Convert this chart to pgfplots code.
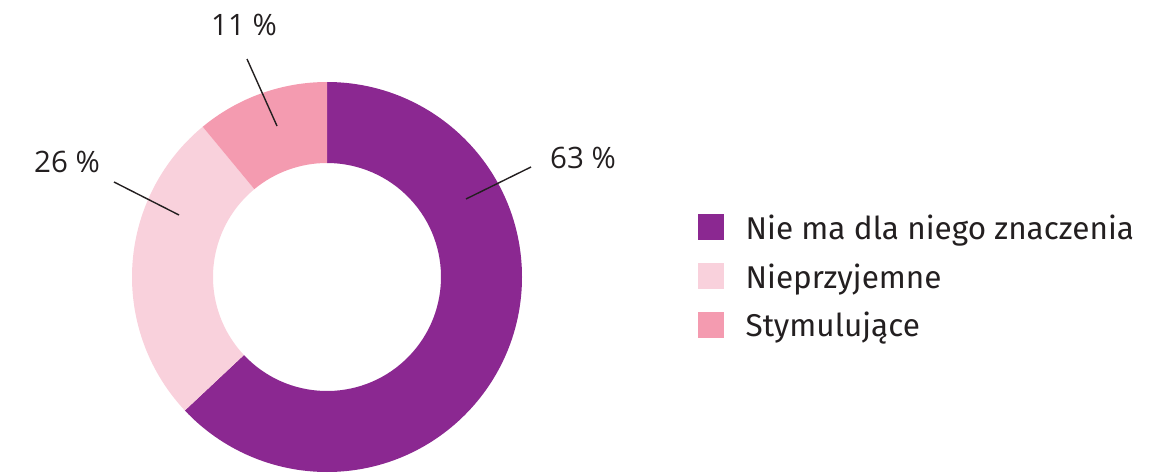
\documentclass[border=0pt]{standalone}
\usepackage{pgfplots}
\pgfplotsset{compat=1.18}
\usepackage{pgfplotstable}
\usepackage{fontspec}
\setmainfont{Open Sans}
\newfontfamily\legfont{Fira Sans}
\definecolor{cA}{HTML}{8B2891}
\definecolor{cB}{HTML}{F9D1DC}
\definecolor{cC}{HTML}{F49BB0}
\definecolor{txt}{HTML}{231F20}
\pgfplotstableread{
name value
A 63
B 26
C 11
}\donutdata
\begin{document}
\begin{tikzpicture}
\pgfplotstablegetelem{0}{value}\of\donutdata \let\vA\pgfplotsretval
\pgfplotstablegetelem{1}{value}\of\donutdata \let\vB\pgfplotsretval
\pgfplotstablegetelem{2}{value}\of\donutdata \let\vC\pgfplotsretval
\pgfmathsetmacro\aO{90}
\pgfmathsetmacro\aA{\aO-\vA*3.6}
\pgfmathsetmacro\aB{\aA-\vB*3.6}
\pgfmathsetmacro\aC{\aB-\vC*3.6}
\begin{axis}[
  scale only axis, width=1160pt, height=475pt,
  xmin=0, xmax=1160, ymin=0, ymax=475,
  hide axis, clip=false,
  legend style={at={(axis cs:698,261)}, anchor=north west, draw=none, fill=none,
    font=\legfont\fontsize{31.5}{36}\selectfont\color{txt},
    row sep=16.5pt, column sep=22pt, inner sep=0pt,
    nodes={inner sep=0pt, anchor=base west, text height=23pt, text depth=7pt}},
  legend cell align=left,
  legend image code/.code={\fill[#1] (0pt,0pt) rectangle (25pt,25pt);},
]
\path (axis cs:0,0) rectangle (axis cs:1160,475);
\def\cx{327}\def\cy{198}
\fill[cA] ([shift={(\aO:195pt)}]axis cs:\cx,\cy) arc[start angle=\aO, end angle=\aA, radius=195pt]
  -- ([shift={(\aA:114pt)}]axis cs:\cx,\cy) arc[start angle=\aA, end angle=\aO, radius=114pt] -- cycle;
\fill[cB] ([shift={(\aA:195pt)}]axis cs:\cx,\cy) arc[start angle=\aA, end angle=\aB, radius=195pt]
  -- ([shift={(\aB:114pt)}]axis cs:\cx,\cy) arc[start angle=\aB, end angle=\aA, radius=114pt] -- cycle;
\fill[cC] ([shift={(\aB:195pt)}]axis cs:\cx,\cy) arc[start angle=\aB, end angle=\aC, radius=195pt]
  -- ([shift={(\aC:114pt)}]axis cs:\cx,\cy) arc[start angle=\aC, end angle=\aB, radius=114pt] -- cycle;
\draw[txt, line width=1.4pt] (axis cs:466,276) -- (axis cs:531,308);
\draw[txt, line width=1.4pt] (axis cs:114,293) -- (axis cs:179,260);
\draw[txt, line width=1.4pt] (axis cs:247,416) -- (axis cs:277,349);
\node[txt, font=\fontsize{29.5}{34}\selectfont, inner sep=0pt] at (axis cs:583,317) {\vA\ \%};
\node[txt, font=\fontsize{29.5}{34}\selectfont, inner sep=0pt] at (axis cs:67,313) {\vB\ \%};
\node[txt, font=\fontsize{29.5}{34}\selectfont, inner sep=0pt] at (axis cs:244,450) {\vC\ \%};
\addlegendimage{cA}\addlegendentry{Nie ma dla niego znaczenia}
\addlegendimage{cB}\addlegendentry{Nieprzyjemne}
\addlegendimage{cC}\addlegendentry{Stymulujące}
\end{axis}
\end{tikzpicture}
\end{document}
